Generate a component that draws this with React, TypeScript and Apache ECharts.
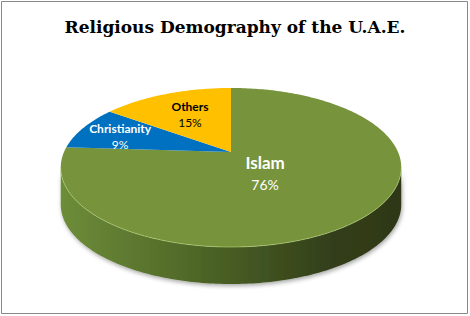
import React, { useEffect, useRef } from "react";
import * as echarts from "echarts";

// ---- data ----
const titleText = "Religious Demography of the U.A.E.";
const categories = ["Islam", "Christianity", "Others"];
const values = [76, 9, 15];
const percentLabels = ["76%", "9%", "15%"];

// ---- styles / layout ----
const sliceColors = ["#77933C", "#0070C0", "#FFC000"];
const wallStops = [
  [
    { offset: 0, color: "#6d8d39" },
    { offset: 0.45, color: "#4b6125" },
    { offset: 0.8, color: "#323e1a" },
    { offset: 1, color: "#2e3818" },
  ],
  [
    { offset: 0, color: "#005a9a" },
    { offset: 1, color: "#00304f" },
  ],
  [
    { offset: 0, color: "#cc9a00" },
    { offset: 1, color: "#7a5c00" },
  ],
];
const labelStyle = [
  { nameFont: "bold 17px Lato", pctFont: "14px Lato", color: "#ffffff", r: 0.286, dy: 5, gap: 11 },
  { nameFont: "bold 12px Lato", pctFont: "12px Lato", color: "#ffffff", r: 0.74, dy: 3, gap: 8 },
  { nameFont: "bold 12px Lato", pctFont: "12px Lato", color: "#000000", r: 0.597, dy: -1, gap: 8 },
];

const CX = 231;
const CY = 152;
const A = 167;
const B = 76.5;
const K = 0.195;
const DEPTH = 37;
const T_R = Math.acos(-K);
const T_L = 2 * Math.PI - Math.acos(-K);

function proj(t: number, r = 1): number[] {
  const u = r * Math.sin(t);
  const v = -r * Math.cos(t);
  const d = 1 - K * v;
  return [CX + (A * u) / d, CY + (B * v) / d];
}

function arc(t0: number, t1: number): number[][] {
  const n = Math.max(2, Math.ceil(((t1 - t0) * 180) / Math.PI));
  const pts: number[][] = [];
  for (let k = 0; k <= n; k++) pts.push(proj(t0 + ((t1 - t0) * k) / n));
  return pts;
}

export default function App() {
  const ref = useRef<HTMLDivElement>(null);
  useEffect(() => {
    const chart = echarts.init(ref.current!, null, { renderer: "svg" });
    const total = values.reduce((s, v) => s + v, 0);

    const renderItem = (params: any) => {
      const i = params.dataIndex;
      let before = 0;
      for (let j = 0; j < i; j++) before += values[j];
      const t0 = (before / total) * 2 * Math.PI;
      const t1 = ((before + values[i]) / total) * 2 * Math.PI;
      const children: any[] = [];

      const a0 = Math.max(t0, T_R);
      const a1 = Math.min(t1, T_L);
      let edge: number[][] | null = null;
      if (a1 > a0) {
        const top = arc(a0, a1);
        edge = top;
        const bottom = top.map((p) => [p[0], p[1] + DEPTH]).reverse();
        children.push({
          type: "polygon",
          shape: { points: top.concat(bottom) },
          style: {
            fill: {
              type: "linear",
              x: CX - A * 1.02,
              y: 0,
              x2: CX + A * 1.02,
              y2: 0,
              global: true,
              colorStops: wallStops[i],
            },
            shadowBlur: 4,
            shadowOffsetX: 1,
            shadowOffsetY: 2,
            shadowColor: "rgba(0,0,0,0.35)",
          },
        });
      }

      children.push({
        type: "polygon",
        shape: { points: [[CX, CY], ...arc(t0, t1)] },
        style: { fill: sliceColors[i] },
      });

      if (edge) {
        children.push({
          type: "polyline",
          shape: { points: edge },
          style: { stroke: "rgba(190,220,130,0.55)", lineWidth: 1, fill: null },
        });
      }

      const ls = labelStyle[i];
      const mid = (t0 + t1) / 2;
      const c = proj(mid, ls.r);
      const lx = c[0];
      const ly = c[1] + ls.dy;
      children.push({
        type: "text",
        style: {
          text: categories[i],
          x: lx,
          y: ly - ls.gap,
          font: ls.nameFont,
          fill: ls.color,
          align: "center",
          verticalAlign: "middle",
        },
      });
      children.push({
        type: "text",
        style: {
          text: percentLabels[i],
          x: lx,
          y: ly + ls.gap,
          font: ls.pctFont,
          fill: ls.color,
          align: "center",
          verticalAlign: "middle",
        },
      });
      return { type: "group", children };
    };

    chart.setOption({
      animation: false,
      title: {
        text: titleText,
        left: "center",
        top: 13,
        textStyle: {
          fontFamily: "DejaVu Serif",
          fontWeight: "bold",
          fontSize: 17,
          color: "#000",
        },
      },
      graphic: [
        {
          type: "rect",
          shape: { x: 1.5, y: 1.5, width: 466, height: 312 },
          style: { fill: "none", stroke: "#888888", lineWidth: 1 },
          silent: true,
        },
      ],
      series: [
        {
          type: "custom",
          coordinateSystem: "none",
          silent: true,
          renderItem,
          data: values.map((v, i) => ({ name: categories[i], value: v })),
        },
      ],
    });
    return () => chart.dispose();
  }, []);
  return (
    <div
      ref={ref}
      style={{ position: "absolute", left: 0, top: 0, width: 470, height: 316, background: "#fff" }}
    />
  );
}
